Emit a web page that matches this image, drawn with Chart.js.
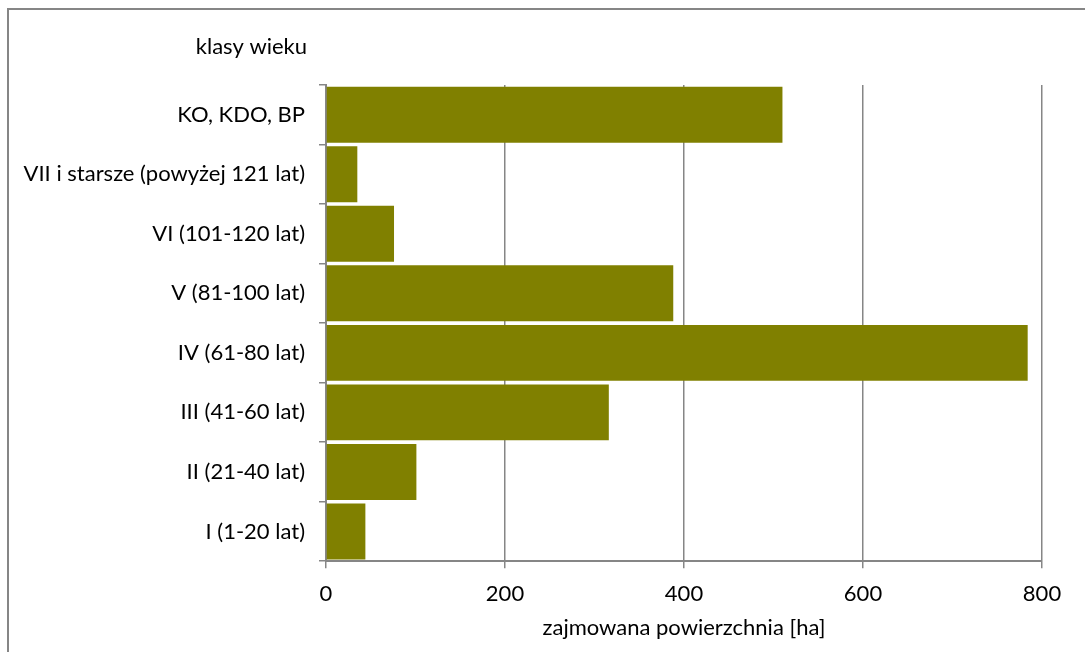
<!DOCTYPE html>
<html>
<head>
<meta charset="utf-8">
<script src="https://cdn.jsdelivr.net/npm/chart.js@4"></script>
<style>
  html, body { margin: 0; padding: 0; background: #fff; }
  #wrap { position: relative; width: 1085px; height: 652px; }
</style>
</head>
<body>
<div id="wrap"><canvas id="myChart" width="1085" height="652"></canvas></div>
<script>
const KLASY = [
  'KO, KDO, BP',
  'VII i starsze (powyżej 121 lat)',
  'VI (101-120 lat)',
  'V (81-100 lat)',
  'IV (61-80 lat)',
  'III (41-60 lat)',
  'II (21-40 lat)',
  'I (1-20 lat)'
];
const POWIERZCHNIA = [510, 35, 76, 388, 784, 316, 101, 44];
const X_TICKS = [0, 200, 400, 600, 800];
const Y_TITLE = 'klasy wieku';
const X_TITLE = 'zajmowana powierzchnia [ha]';

const FONT = 'Lato, "Liberation Sans", sans-serif';
const GRID = '#868686';

// ramka wykresu i opis osi kategorii
const ramka = {
  id: 'ramka',
  beforeDraw(chart) {
    const ctx = chart.ctx;
    ctx.save();
    ctx.strokeStyle = GRID;
    ctx.lineWidth = 2;
    ctx.strokeRect(8, 9, 1200, 800);
    ctx.restore();
  },
  afterDraw(chart) {
    const ctx = chart.ctx;
    const y = chart.scales.y;
    ctx.save();
    ctx.font = '22px ' + FONT;
    ctx.fillStyle = '#000';
    ctx.textAlign = 'right';
    ctx.textBaseline = 'middle';
    ctx.fillText(Y_TITLE, y.right - 19, 47);
    ctx.restore();
  }
};

const data = {
  labels: KLASY,
  datasets: [{
    label: 'powierzchnia',
    data: POWIERZCHNIA,
    backgroundColor: '#808000',
    borderWidth: 0,
    barPercentage: 1,
    categoryPercentage: 0.94
  }]
};

const config = {
  type: 'bar',
  data: data,
  options: {
    indexAxis: 'y',
    responsive: false,
    animation: false,
    layout: { padding: { top: 85, right: 43, bottom: 11, left: 8 } },
    plugins: {
      legend: { display: false },
      tooltip: { enabled: false }
    },
    scales: {
      x: {
        min: 0,
        max: 800,
        afterBuildTicks: (s) => { s.ticks = X_TICKS.map(v => ({ value: v })); },
        grid: { color: GRID, lineWidth: 1.5, tickLength: 7, drawTicks: true },
        border: { color: GRID, width: 2 },
        ticks: { color: '#000', font: { size: 22, family: FONT }, padding: 13 },
        title: { display: true, text: X_TITLE, color: '#000', font: { size: 22, family: FONT }, padding: { top: -6, bottom: 0 } }
      },
      y: {
        afterFit: (s) => { s.width = 318; },
        grid: { drawOnChartArea: false, offset: true, color: GRID, lineWidth: 1.5, tickLength: 7 },
        border: { color: GRID, width: 2 },
        ticks: { color: '#000', font: { size: 22, family: FONT }, padding: 14 }
      }
    }
  },
  plugins: [ramka]
};

const myChart = new Chart(document.getElementById('myChart'), config);
</script>
</body>
</html>
